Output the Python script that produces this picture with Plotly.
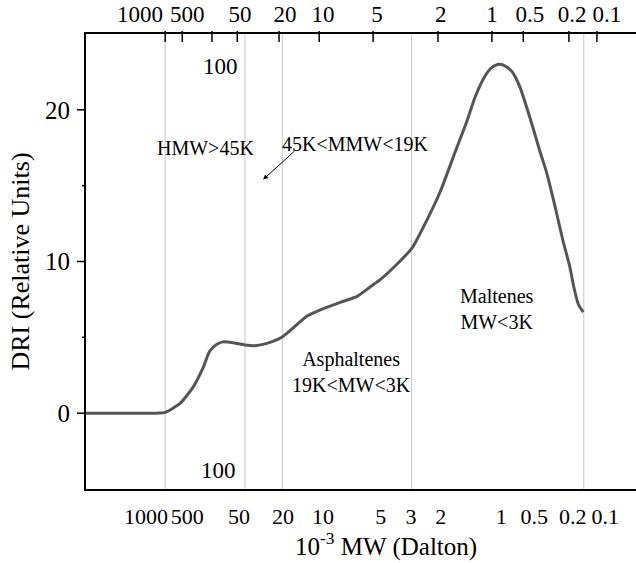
import plotly.graph_objects as go

# Elution position (arbitrary linear units, 0 = left axis) and DRI signal
elution = [0, 12.9, 14.4, 17.1, 19.5, 21.3, 22.5, 23.8, 24.9, 26.7, 28.9, 30.7, 32.9,
           35.6, 37.6, 40.2, 42.5, 46.2, 49.3, 51.6, 53.5, 56.2, 59.3, 61.8, 64.4,
           67.1, 69.3, 70.7, 72.5, 73.8, 75.1, 76.4, 77.5, 78.9, 80.7, 82.5, 83.8,
           85.3, 86.7, 88.0, 88.7, 89.5, 90.4]
dri = [0, 0, 0.05, 0.64, 1.73, 3.0, 4.1, 4.55, 4.7, 4.65, 4.5, 4.45, 4.6,
       5.0, 5.6, 6.4, 6.8, 7.3, 7.7, 8.3, 8.8, 9.7, 10.9, 12.6, 14.6,
       17.2, 19.3, 20.8, 22.2, 22.8, 23.0, 22.85, 22.5, 21.5, 19.5, 17.3, 15.8,
       13.6, 11.4, 9.6, 8.3, 7.2, 6.66]

# Calibration: MW (kDa) tick positions on the elution axis
top_tick_pos = [14.4, 17.5, 22.9, 27.5, 35.1, 42.4, 52.2, 64.0, 73.8, 79.5, 87.8, 92.9]
top_label_pos = [9.8, 18.4, 28.0, 36.2, 43.1, 52.9, 64.5, 73.8, 80.7, 88.4, 94.7]
top_label_text = ["1000", "500", "50", "20", "10", "5", "2", "1", "0.5", "0.2", "0.1"]
bottom_label_pos = [10.9, 18.4, 27.8, 35.8, 43.1, 53.6, 59.1, 64.5, 75.5, 81.5, 88.5, 94.4]
bottom_label_text = ["1000", "500", "50", "20", "10", "5", "3", "2", "1", "0.5", "0.2", "0.1"]
y_major = [0, 10, 20]
y_minor = [5, 15]

# Fraction boundaries (grey lines)
boundaries = [14.4, 28.9, 35.7, 59.2, 90.5]

serif = "Liberation Serif"

fig = go.Figure()
fig.add_trace(go.Scatter(x=elution, y=dri, mode="lines",
                         line=dict(color="#555555", width=3, shape="spline", smoothing=0.6),
                         hoverinfo="skip", showlegend=False))
# invisible copies so that the overlay axes are drawn
for xa in ["x2", "x3"]:
    fig.add_trace(go.Scatter(x=elution, y=dri, xaxis=xa, mode="lines",
                             opacity=0, line=dict(width=0), hoverinfo="skip",
                             showlegend=False))

for b in boundaries:
    fig.add_shape(type="line", xref="x", yref="paper", x0=b, x1=b, y0=0, y1=1,
                  line=dict(color="#c8c8c8", width=1), layer="below")

# tick marks (positions from the tick arrays, lengths in pixels)
tick_line = dict(color="black", width=1.5)
for t in top_tick_pos:
    fig.add_shape(type="line", xref="x", yref="paper", ysizemode="pixel", yanchor=1,
                  x0=t, x1=t, y0=-8, y1=3, line=tick_line, layer="above")
for v in y_major:
    fig.add_shape(type="line", xref="paper", yref="y", xsizemode="pixel", xanchor=0,
                  x0=-9, x1=0, y0=v, y1=v, line=tick_line, layer="above")
for v in y_minor:
    fig.add_shape(type="line", xref="paper", yref="y", xsizemode="pixel", xanchor=0,
                  x0=-4, x1=0, y0=v, y1=v, line=tick_line, layer="above")

xr = [0, 100]
yr = [-5, 25]
clear = "rgba(0,0,0,0)"
fig.update_layout(
    width=636, height=563,
    margin=dict(l=86, r=0, t=34, b=74, autoexpand=False),
    plot_bgcolor="white", paper_bgcolor="white",
    font=dict(family=serif, color="black"),
    # main x axis: top line
    xaxis=dict(range=xr, side="top", showline=True, linecolor="black", linewidth=2,
               tickvals=top_tick_pos, showticklabels=False, ticks="",
               automargin=False, showgrid=False, zeroline=False),
    # top labels
    xaxis2=dict(range=xr, overlaying="x", side="top", showline=False,
                tickvals=top_label_pos, ticktext=top_label_text, tickangle=0,
                ticks="outside", ticklen=2, tickcolor=clear, automargin=False,
                tickfont=dict(size=23, family=serif), showgrid=False, zeroline=False),
    # bottom line and labels
    xaxis3=dict(range=xr, overlaying="x", side="bottom", showline=True, linecolor="black",
                linewidth=2, tickvals=bottom_label_pos, ticktext=bottom_label_text,
                tickangle=0, ticks="outside", ticklen=7, tickcolor=clear,
                automargin=False, tickfont=dict(size=22, family=serif),
                showgrid=False, zeroline=False),
    yaxis=dict(range=yr, showline=True, linecolor="black", linewidth=2,
               tickvals=y_major, ticks="outside", ticklen=9, tickcolor=clear,
               tickfont=dict(size=25, family=serif), automargin=False,
               showgrid=False, zeroline=False,
               title=dict(text="DRI (Relative Units)", font=dict(size=26, family=serif),
                          standoff=8)),
)

ann_font = dict(family=serif, size=20, color="black")
fig.add_annotation(x=21.8, y=17.5, text="HMW&gt;45K", showarrow=False, font=ann_font)
fig.add_annotation(x=48.9, y=17.76, text="45K&lt;MMW&lt;19K", showarrow=False, font=ann_font)
fig.add_annotation(x=32.2, y=15.4, ax=33, ay=-30, text="", showarrow=True,
                   arrowhead=2, arrowsize=1, arrowwidth=1, arrowcolor="black")
fig.add_annotation(x=48.2, y=2.7, text="Asphaltenes<br>19K&lt;MW&lt;3K", showarrow=False, font=ann_font)
fig.add_annotation(x=74.7, y=6.9, text="Maltenes<br>MW&lt;3K", showarrow=False, font=ann_font)
fig.add_annotation(x=24.4, y=22.83, text="100", showarrow=False, font=dict(family=serif, size=23))
fig.add_annotation(x=24.0, y=-3.75, text="100", showarrow=False, font=dict(family=serif, size=23))
fig.add_annotation(xref="paper", yref="paper", x=0.545, y=-0.122, yanchor="middle",
                   text="10<sup>-3</sup> MW (Dalton)", showarrow=False,
                   font=dict(family=serif, size=25))

fig.write_html("out.html")
